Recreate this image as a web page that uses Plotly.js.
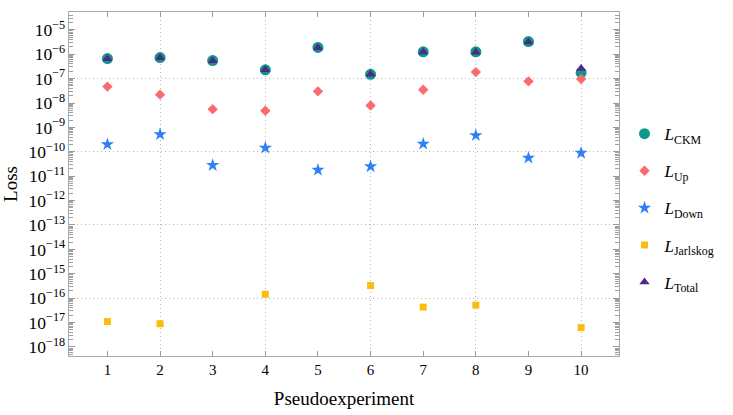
<!DOCTYPE html>
<html>
<head>
<meta charset="utf-8">
<script src="https://cdn.plot.ly/plotly-3.0.1.min.js"></script>
<style>
  html, body { margin: 0; padding: 0; background: #fff; }
  #plot { width: 733px; height: 415px; }
</style>
</head>
<body>
<div id="plot"></div>
<script>
'use strict'

// data

const experiments = [1, 2, 3, 4, 5, 6, 7, 8, 9, 10]

const loss_ckm = [6.6e-7, 7.3e-7, 5.5e-7, 2.3e-7, 1.9e-6, 1.5e-7, 1.25e-6, 1.25e-6, 3.3e-6, 1.75e-7]
const loss_up = [4.7e-8, 2.2e-8, 5.6e-9, 4.8e-9, 3.0e-8, 7.9e-9, 3.5e-8, 1.85e-7, 7.7e-8, 9.6e-8]
const loss_down = [2.0e-10, 5.2e-10, 2.8e-11, 1.45e-10, 1.8e-11, 2.5e-11, 2.1e-10, 4.7e-10, 5.6e-11, 8.9e-11]
const loss_jarlskog = [1.1e-17, 9e-18, null, 1.45e-16, null, 3.3e-16, 4.3e-17, 5.2e-17, null, 6.2e-18]
const loss_total = [6.5e-7, 7.2e-7, 5.4e-7, 2.3e-7, 1.85e-6, 1.5e-7, 1.22e-6, 1.2e-6, 3.2e-6, 2.6e-7]

const series_names = [
  '<i>L</i><sub>CKM</sub>',
  '<i>L</i><sub>Up</sub>',
  '<i>L</i><sub>Down</sub>',
  '<i>L</i><sub>Jarlskog</sub>',
  '<i>L</i><sub>Total</sub>'
]

///////////////////////////////////////////////////////

const font = 'Liberation Serif, DejaVu Serif, serif'

const makeTrace = (name, y, symbol, color, size) => ({
  type: 'scatter',
  mode: 'markers',
  name: name,
  legendgroup: name,
  x: experiments,
  y: y,
  marker: { symbol: symbol, color: color, size: size, line: { width: 0 } },
  hoverinfo: 'skip'
})

// empty traces so the overlaid grid / minor tick axes get drawn
const emptyTrace = (xa, ya) => ({
  type: 'scatter',
  mode: 'markers',
  x: [],
  y: [],
  xaxis: xa,
  yaxis: ya,
  showlegend: false,
  hoverinfo: 'skip'
})

const traces = [
  emptyTrace('x2', 'y2'),
  emptyTrace('x2', 'y3'),
  makeTrace(series_names[0], loss_ckm, 'circle', '#0e978a', 11),
  makeTrace(series_names[1], loss_up, 'diamond', '#fb6b6e', 8),
  makeTrace(series_names[2], loss_down, 'star', '#2f80f5', 10),
  makeTrace(series_names[3], loss_jarlskog, 'square', '#fbbc0c', 7),
  makeTrace(series_names[4], loss_total, 'triangle-up', '#51288a', 9)
]

const x_range = [0.27, 10.72]
const y_range = [-18.37, -4.27]

// minor tick positions: 2..9 in every decade
const minor_vals = []
for (let e = -19; e <= -4; e++)
  for (let d = 2; d <= 9; d++)
    minor_vals.push(d * Math.pow(10, e))

const gridStyle = {
  showgrid: true,
  gridcolor: '#b8b8b8',
  griddash: '1px,3px',
  gridwidth: 1,
  showticklabels: false,
  ticks: '',
  zeroline: false
}

const layout = {
  width: 733,
  height: 415,
  margin: { l: 69, r: 108, t: 12, b: 59 },
  paper_bgcolor: '#fff',
  plot_bgcolor: '#fff',
  font: { family: font, color: '#000', size: 14 },
  showlegend: true,
  legend: {
    x: 1.01,
    xanchor: 'left',
    y: 0.43,
    yanchor: 'middle',
    font: { size: 17, family: font },
    traceorder: 'grouped',
    tracegroupgap: 12,
    itemwidth: 30
  },
  xaxis: {
    range: x_range,
    dtick: 1,
    tick0: 0,
    ticks: 'inside',
    ticklen: 5,
    tickcolor: '#999',
    showline: true,
    linecolor: '#aaa',
    linewidth: 1,
    mirror: 'ticks',
    showgrid: false,
    zeroline: false,
    tickfont: { size: 15 },
    title: { text: 'Pseudoexperiment', font: { size: 19 }, standoff: 14 }
  },
  xaxis2: Object.assign({ overlaying: 'x', range: x_range, dtick: 2, tick0: 0 }, gridStyle),
  yaxis: {
    type: 'log',
    range: y_range,
    dtick: 1,
    ticks: 'inside',
    ticklen: 6,
    tickcolor: '#999',
    exponentformat: 'power',
    showexponent: 'all',
    showline: true,
    linecolor: '#aaa',
    linewidth: 1,
    mirror: 'ticks',
    showgrid: false,
    zeroline: false,
    tickfont: { size: 14 },
    title: { text: 'Loss', font: { size: 19 }, standoff: 12 }
  },
  yaxis2: Object.assign({ type: 'log', overlaying: 'y', range: y_range, dtick: 3, tick0: -7 }, gridStyle),
  yaxis3: {
    type: 'log',
    overlaying: 'y',
    range: y_range,
    tickmode: 'array',
    tickvals: minor_vals,
    ticks: 'inside',
    ticklen: 4,
    tickcolor: '#a0a0a0',
    showticklabels: false,
    showline: true,
    linecolor: '#aaa',
    mirror: 'ticks',
    showgrid: false,
    zeroline: false
  }
}

Plotly.newPlot('plot', traces, layout, { staticPlot: true })
</script>
</body>
</html>
